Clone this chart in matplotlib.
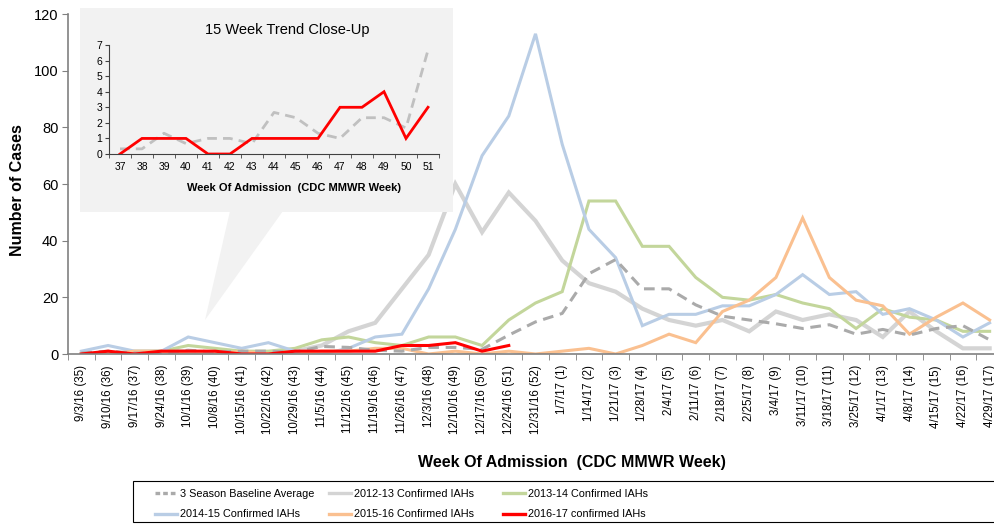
import matplotlib
matplotlib.use('Agg')
import matplotlib.pyplot as plt
from matplotlib.lines import Line2D
from matplotlib.patches import Rectangle, Polygon

plt.rcParams['font.family'] = ['Liberation Sans', 'DejaVu Sans']

# Semaines (date de fin + semaine MMWR)
week_dates = ['9/3/16', '9/10/16', '9/17/16', '9/24/16', '10/1/16', '10/8/16', '10/15/16',
              '10/22/16', '10/29/16', '11/5/16', '11/12/16', '11/19/16', '11/26/16', '12/3/16',
              '12/10/16', '12/17/16', '12/24/16', '12/31/16', '1/7/17', '1/14/17', '1/21/17',
              '1/28/17', '2/4/17', '2/11/17', '2/18/17', '2/25/17', '3/4/17', '3/11/17',
              '3/18/17', '3/25/17', '4/1/17', '4/8/17', '4/15/17', '4/22/17', '4/29/17']
mmwr_weeks = [35, 36, 37, 38, 39, 40, 41, 42, 43, 44, 45, 46, 47, 48, 49, 50, 51, 52,
              1, 2, 3, 4, 5, 6, 7, 8, 9, 10, 11, 12, 13, 14, 15, 16, 17]

baseline = [0.33, 1, 0.33, 0.33, 1.33, 0.67, 1, 1, 0.67, 2.67, 2.33, 1.33, 1, 2.33, 2.33, 1.67,
            6.67, 11.33, 14.33, 28.33, 33.33, 23, 23, 17.33, 13.33, 12, 10.67, 9, 10.33, 7,
            8.67, 6.67, 9, 10, 5]
s2012 = [0, 0, 0, 1, 1, 0, 0, 0, 1, 3, 8, 11, 23, 35, 60, 43, 57, 47, 33, 25, 22, 16, 12, 10,
         12, 8, 15, 12, 14, 12, 6, 15, 8, 2, 2]
s2013 = [0, 0, 1, 1, 3, 2, 1, 1, 2, 5, 6, 4, 3, 6, 6, 3, 12, 18, 22, 54, 54, 38, 38, 27, 20,
         19, 21, 18, 16, 9, 16, 13, 12, 8, 8]
s2014 = [1, 3, 1, 1, 6, 4, 2, 4, 1, 0, 2, 6, 7, 23, 44, 70, 84, 113, 74, 44, 34, 10, 14, 14,
         17, 17, 21, 28, 21, 22, 14, 16, 12, 6, 11]
s2015 = [0, 0, 1, 1, 0, 0, 1, 0, 0, 1, 1, 2, 2, 0, 1, 0, 1, 0, 1, 2, 0, 3, 7, 4, 15, 19, 27,
         48, 27, 19, 17, 7, 13, 18, 12]
s2016 = [0, 1, 0, 1, 1, 1, 0, 0, 1, 1, 1, 1, 3, 3, 4, 1, 3]

labels = [f'{d} ({w})' for d, w in zip(week_dates, mmwr_weeks)]
x = list(range(len(week_dates)))

W, H = 995, 524
fig = plt.figure(figsize=(W / 100, H / 100), dpi=100)

def fx(px):
    return px / W

def fy(py):
    return 1 - py / H

ax = fig.add_axes([fx(68), fy(354), fx(935), 340 / H])
ax.set_zorder(0)

c_base = '#aaaaaa'
c_2012 = '#d4d4d4'
c_2013 = '#c3d69b'
c_2014 = '#b9cde5'
c_2015 = '#fac090'
c_2016 = '#ff0000'

ax.plot(x, s2012, color=c_2012, lw=3.0, solid_joinstyle='miter')
ax.plot(x, s2013, color=c_2013, lw=2.2, solid_joinstyle='miter')
ax.plot(x, s2014, color=c_2014, lw=2.2, solid_joinstyle='miter')
ax.plot(x, s2015, color=c_2015, lw=2.2, solid_joinstyle='miter')
ax.plot(x, baseline, color=c_base, lw=2.2, ls=(0, (3.5, 2.2)))
ax.plot(x[:len(s2016)], s2016, color=c_2016, lw=2.2, solid_joinstyle='miter')

ax.set_xlim(-0.5, 34.5)
ax.set_ylim(0, 120)
ax.set_yticks(range(0, 121, 20))
ax.tick_params(axis='y', labelsize=10.5, length=4, color='#808080', pad=3)
ax.set_xticks(x)
ax.set_xticklabels(labels, rotation=90, fontsize=8.3)
ax.tick_params(axis='x', which='major', length=0, pad=8)
ax.set_xticks([i - 0.5 for i in range(len(x) + 1)], minor=True)
ax.tick_params(axis='x', which='minor', length=4, color='#808080')
for s in ['top', 'right']:
    ax.spines[s].set_visible(False)
for s in ['left', 'bottom']:
    ax.spines[s].set_color('#808080')
    ax.spines[s].set_linewidth(1.2)

fig.text(fx(572), fy(463), 'Week Of Admission  (CDC MMWR Week)', ha='center', va='center',
         fontsize=11.5, fontweight='bold')
fig.text(fx(18), fy(190), 'Number of Cases', ha='center', va='center', rotation=90,
         fontsize=11.5, fontweight='bold')

# encadré gris + bulle
box = Rectangle((fx(80), fy(212)), fx(373), 204 / H, transform=fig.transFigure,
                facecolor='#f2f2f2', edgecolor='none', zorder=1)
tri = Polygon([(fx(230), fy(211)), (fx(283), fy(211)), (fx(205), fy(320))],
              closed=True, transform=fig.transFigure, facecolor='#f2f2f2',
              edgecolor='none', zorder=1)
fig.patches.extend([box, tri])

ins = fig.add_axes([fx(109), fy(154), fx(330), 109 / H])
ins.set_zorder(2)
ins.patch.set_alpha(0)
ix = list(range(15))
ins.plot(ix, baseline[2:17], color='#c0c0c0', lw=2.0, ls=(0, (3.5, 2.2)))
ins.plot(ix, s2016[2:17], color=c_2016, lw=2.0, solid_joinstyle='miter')
ins.set_xlim(-0.5, 14.5)
ins.set_ylim(0, 7)
ins.set_yticks(range(0, 8))
ins.set_xticks(ix)
ins.set_xticklabels([str(w) for w in mmwr_weeks[2:17]], fontsize=7.5)
ins.tick_params(axis='x', which='major', length=0, pad=6)
ins.set_xticks([i - 0.5 for i in range(16)], minor=True)
ins.tick_params(axis='x', which='minor', length=3, color='#404040')
ins.tick_params(axis='y', labelsize=7.5, length=3, color='#404040', pad=2)
for s in ['top', 'right']:
    ins.spines[s].set_visible(False)
for s in ['left', 'bottom']:
    ins.spines[s].set_color('#404040')
fig.text(fx(287), fy(30), '15 Week Trend Close-Up', ha='center', va='center', fontsize=10.5,
         zorder=3)
fig.text(fx(294), fy(188), 'Week Of Admission  (CDC MMWR Week)', ha='center', va='center',
         fontsize=8, fontweight='bold', zorder=3)

# légende
frame = Rectangle((fx(133), fy(522)), fx(880), 41 / H, transform=fig.transFigure,
                  facecolor='white', edgecolor='black', lw=0.8, zorder=1)
fig.patches.append(frame)

legend_cols = [
    [(c_base, (0, (1.4, 0.9)), '3 Season Baseline Average'), (c_2014, '-', '2014-15 Confirmed IAHs')],
    [(c_2012, '-', '2012-13 Confirmed IAHs'), (c_2015, '-', '2015-16 Confirmed IAHs')],
    [(c_2013, '-', '2013-14 Confirmed IAHs'), (c_2016, '-', '2016-17 confirmed IAHs')],
]
col_x = [155, 329, 503]
for cx, entries in zip(col_x, legend_cols):
    handles = [Line2D([], [], color=c, ls=ls, lw=2.4) for c, ls, _ in entries]
    leg = fig.legend(handles, [t for _, _, t in entries], loc='upper left',
                     bbox_to_anchor=(fx(cx), fy(489)), frameon=False,
                     handlelength=2.0, handletextpad=0.3, labelspacing=0.95,
                     borderpad=0, borderaxespad=0,
                     prop={'family': 'Liberation Sans', 'size': 7.8})
    leg.set_zorder(3)

fig.savefig('out.png', dpi=100)
